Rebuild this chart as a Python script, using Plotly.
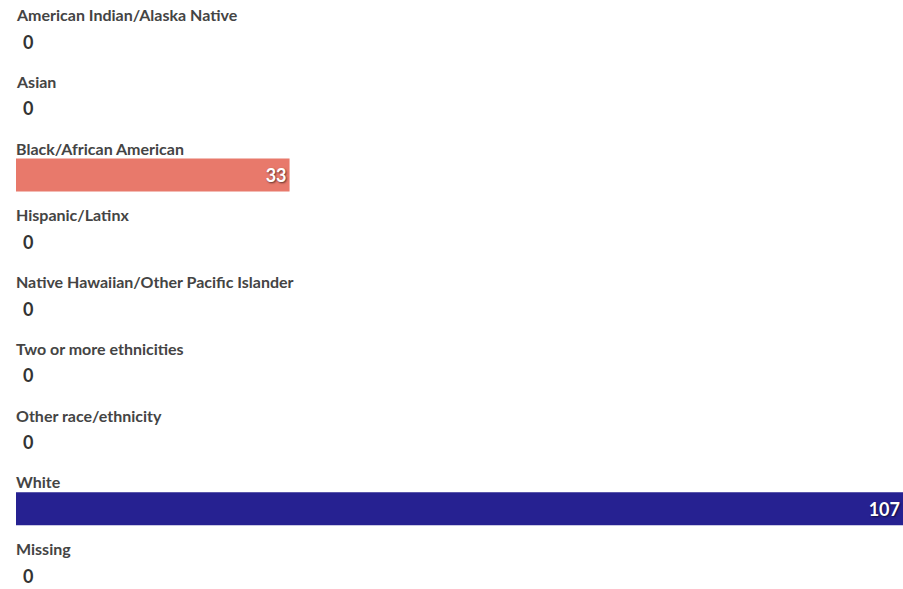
import plotly.graph_objects as go

categories = ["American Indian/Alaska Native", "Asian", "Black/African American",
              "Hispanic/Latinx", "Native Hawaiian/Other Pacific Islander",
              "Two or more ethnicities", "Other race/ethnicity", "White", "Missing"]
values = [0, 0, 33, 0, 0, 0, 0, 107, 0]
colors = ["#E8796B" if c != "White" else "#262191" for c in categories]

FONT = "Lato"
fig = go.Figure()
fig.add_trace(go.Bar(
    y=categories, x=values, orientation="h",
    marker=dict(color=colors, line=dict(width=0)),
    text=[str(v) if v > 0 else "" for v in values],
    textposition="inside", insidetextanchor="end",
    textfont=dict(family=FONT, size=18, color="white", weight="bold",
                  shadow="1px 1px 2px rgba(0,0,0,0.6)"),
    hoverinfo="skip", cliponaxis=False,
))

annotations = []
for c, v in zip(categories, values):
    annotations.append(dict(
        x=0, y=c, xref="x", yref="y", text=c, showarrow=False,
        xanchor="left", yanchor="middle", yshift=27, xshift=-2,
        font=dict(family=FONT, size=16, color="#444444", weight="bold")))
    if v == 0:
        annotations.append(dict(
            x=0, y=c, xref="x", yref="y", text=str(v), showarrow=False,
            xanchor="left", yanchor="middle", xshift=5,
            font=dict(family=FONT, size=18, color="#333333", weight="bold")))

fig.update_layout(
    width=903, height=589,
    margin=dict(l=16, r=0, t=0, b=0),
    paper_bgcolor="white", plot_bgcolor="white",
    showlegend=False, bargap=0.506,
    xaxis=dict(range=[0, 107], visible=False, fixedrange=True),
    yaxis=dict(type="category", categoryorder="array", categoryarray=categories,
               range=[8.202, -0.622], visible=False, fixedrange=True),
    annotations=annotations,
)
fig.write_html("out.html", config={"displayModeBar": False},
               post_script="document.body.style.margin='0';document.body.style.overflow='hidden';")
